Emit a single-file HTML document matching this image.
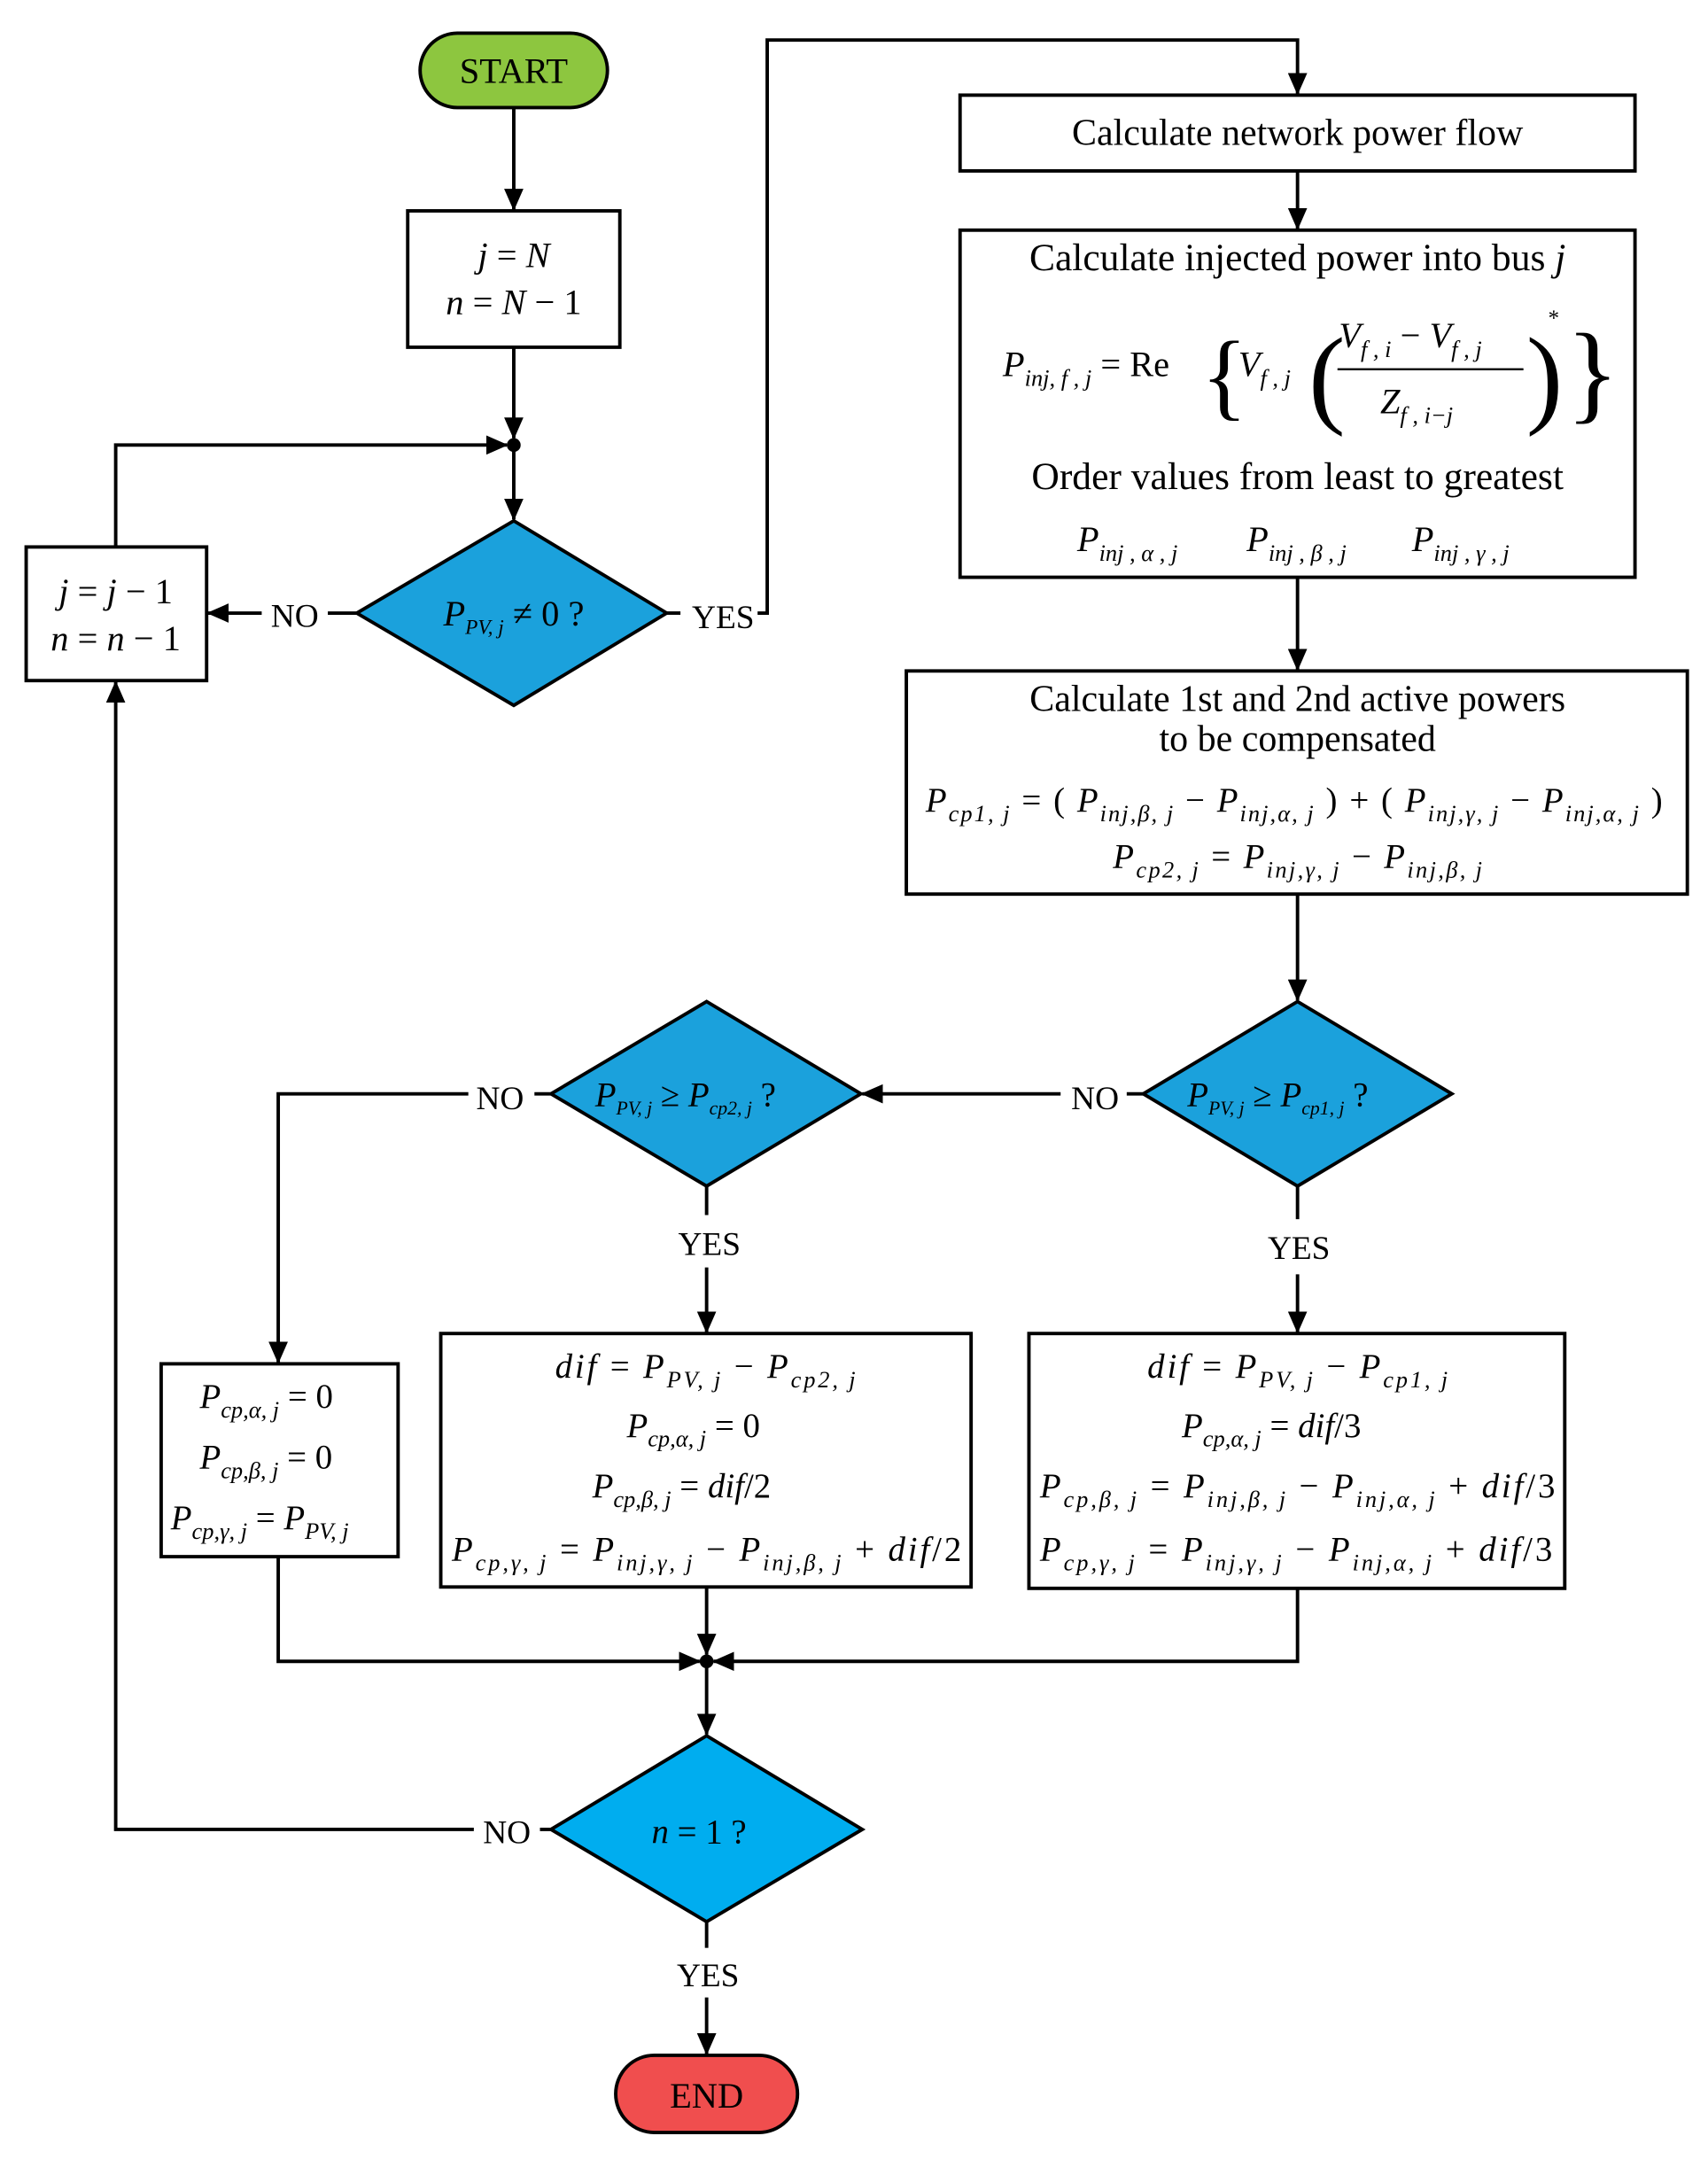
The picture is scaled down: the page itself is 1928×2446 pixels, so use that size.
<!DOCTYPE html>
<html><head><meta charset="utf-8"><style>
html,body{margin:0;padding:0;background:#fff;}
svg{display:block;}
text{font-family:"Liberation Serif",serif;fill:#000;}
.i{font-style:italic;}
</style></head><body>
<svg width="1928" height="2446" viewBox="0 0 1240 1573" xmlns="http://www.w3.org/2000/svg">
<defs>
<marker id="b" markerWidth="16" markerHeight="14" refX="15" refY="7" orient="auto" markerUnits="userSpaceOnUse">
<path d="M0,0 L16,7 L0,14 Z" fill="#000"/></marker>
</defs>
<g stroke="#000" stroke-width="2.5" fill="none">
<rect x="305" y="24" width="136" height="54" rx="27" fill="#8dc63f"/>
<rect x="296" y="153" width="154" height="99" fill="#fff"/>
<polygon points="259,445 373,378 484,445 373,512" fill="#1ba1dc"/>
<rect x="19" y="397" width="131" height="97" fill="#fff"/>
<rect x="697" y="69" width="490" height="55" fill="#fff"/>
<rect x="697" y="167" width="490" height="252" fill="#fff"/>
<rect x="658" y="487" width="567" height="162" fill="#fff"/>
<polygon points="830,794 942,727 1054,794 942,861" fill="#1ba1dc"/>
<polygon points="400,794 513,727 625,794 513,861" fill="#1ba1dc"/>
<rect x="117" y="990" width="172" height="140" fill="#fff"/>
<rect x="320" y="968" width="385" height="184" fill="#fff"/>
<rect x="747" y="968" width="389" height="185" fill="#fff"/>
<polygon points="400,1328 513,1260 626,1328 513,1395" fill="#00adef"/>
<rect x="447" y="1492" width="132" height="56" rx="28" fill="#f04e4e"/>
<line x1="373" y1="78" x2="373" y2="152" marker-end="url(#b)"/>
<line x1="373" y1="252" x2="373" y2="318" marker-end="url(#b)"/>
<line x1="373" y1="323" x2="373" y2="377" marker-end="url(#b)"/>
<polyline points="84,397 84,323 368,323" marker-end="url(#b)"/>
<line x1="259" y1="445" x2="238" y2="445"/>
<line x1="190" y1="445" x2="151" y2="445" marker-end="url(#b)"/>
<line x1="484" y1="445" x2="494" y2="445"/>
<polyline points="550,445 557,445 557,29 942,29 942,68" marker-end="url(#b)"/>
<line x1="942" y1="124" x2="942" y2="166" marker-end="url(#b)"/>
<line x1="942" y1="419" x2="942" y2="486" marker-end="url(#b)"/>
<line x1="942" y1="649" x2="942" y2="726" marker-end="url(#b)"/>
<line x1="830" y1="794" x2="818" y2="794"/>
<line x1="770" y1="794" x2="626" y2="794" marker-end="url(#b)"/>
<line x1="400" y1="794" x2="388" y2="794"/>
<polyline points="340,794 202,794 202,989" marker-end="url(#b)"/>
<line x1="513" y1="861" x2="513" y2="882"/>
<line x1="513" y1="920" x2="513" y2="967" marker-end="url(#b)"/>
<line x1="942" y1="861" x2="942" y2="885"/>
<line x1="942" y1="925" x2="942" y2="967" marker-end="url(#b)"/>
<polyline points="202,1130 202,1206 508,1206" marker-end="url(#b)"/>
<polyline points="942,1153 942,1206 518,1206" marker-end="url(#b)"/>
<line x1="513" y1="1152" x2="513" y2="1201" marker-end="url(#b)"/>
<line x1="513" y1="1206" x2="513" y2="1259" marker-end="url(#b)"/>
<line x1="400" y1="1328" x2="392" y2="1328"/>
<polyline points="344,1328 84,1328 84,495" marker-end="url(#b)"/>
<line x1="513" y1="1395" x2="513" y2="1414"/>
<line x1="513" y1="1450" x2="513" y2="1491" marker-end="url(#b)"/>
</g>
<circle cx="373" cy="323" r="5" fill="#000"/>
<circle cx="513" cy="1206" r="5" fill="#000"/>

<g font-size="26" text-anchor="middle">
<text x="373" y="60">START</text>
<text x="513" y="1530">END</text>
<text x="214" y="455" font-size="24">NO</text>
<text x="525" y="456" font-size="24">YES</text>
<text x="795" y="805" font-size="24">NO</text>
<text x="363" y="805" font-size="24">NO</text>
<text x="515" y="911" font-size="24">YES</text>
<text x="943" y="914" font-size="24">YES</text>
<text x="368" y="1338" font-size="24">NO</text>
<text x="514" y="1442" font-size="24">YES</text>
<text x="373" y="194" class="i">j <tspan font-style="normal">=</tspan> N</text>
<text x="373" y="228" class="i">n <tspan font-style="normal">= </tspan>N<tspan font-style="normal"> − 1</tspan></text>
<text x="84" y="438" class="i">j <tspan font-style="normal">= </tspan>j<tspan font-style="normal"> − 1</tspan></text>
<text x="84" y="472" class="i">n <tspan font-style="normal">= </tspan>n<tspan font-style="normal"> − 1</tspan></text>
<text x="373" y="454" class="i">P<tspan font-size="15" dy="6">PV, j</tspan><tspan dy="-6" font-style="normal"> ≠ 0 ?</tspan></text>
<text x="942" y="105" font-size="27">Calculate network power flow</text>
<text x="942" y="196" font-size="28">Calculate injected power into bus <tspan class="i">j</tspan></text>
<text x="942" y="355" font-size="28">Order values from least to greatest</text>
</g>
<g font-size="26">
<text x="728" y="273" class="i">P<tspan font-size="17" dy="7">inj, f , j</tspan><tspan dy="-7" font-style="normal"> = Re</tspan></text>
<text x="872" y="296" font-size="70" font-weight="100">{</text>
<text x="899" y="273" class="i">V<tspan font-size="17" dy="7">f , j</tspan></text>
<text x="950" y="300" font-size="80" font-weight="100">(</text>
<text x="1108" y="300" font-size="80" font-weight="100">)</text>
<text x="1124" y="236" font-size="16">*</text>
<text x="1137" y="297" font-size="80" font-weight="100">}</text>
<line x1="971" y1="268" x2="1106" y2="268" stroke="#000" stroke-width="1.5"/>
<text x="972" y="252" class="i">V<tspan font-size="17" dy="7">f , i</tspan><tspan dy="-7" font-style="normal"> − </tspan>V<tspan font-size="17" dy="7">f , j</tspan></text>
<text x="1002" y="300" class="i">Z<tspan font-size="17" dy="7">f , i−j</tspan></text>
<text x="782" y="400" class="i">P<tspan font-size="17" dy="7">inj , α , j</tspan></text>
<text x="905" y="400" class="i">P<tspan font-size="17" dy="7">inj , β , j</tspan></text>
<text x="1025" y="400" class="i">P<tspan font-size="17" dy="7">inj , γ , j</tspan></text>
</g>
<g font-size="27" text-anchor="middle">
<text x="942" y="516">Calculate 1st and 2nd active powers</text>
<text x="942" y="545">to be compensated</text>
</g>
<g font-size="25">
<text x="672" y="589" class="i" textLength="535" lengthAdjust="spacing">P<tspan font-size="17" dy="7">cp1, j</tspan><tspan dy="-7" font-style="normal"> = ( </tspan>P<tspan font-size="17" dy="7">inj,β, j</tspan><tspan dy="-7" font-style="normal"> − </tspan>P<tspan font-size="17" dy="7">inj,α, j</tspan><tspan dy="-7" font-style="normal"> ) + ( </tspan>P<tspan font-size="17" dy="7">inj,γ, j</tspan><tspan dy="-7" font-style="normal"> − </tspan>P<tspan font-size="17" dy="7">inj,α, j</tspan><tspan dy="-7" font-style="normal"> )</tspan></text>
<text x="808" y="630" class="i" textLength="268" lengthAdjust="spacing">P<tspan font-size="17" dy="7">cp2, j</tspan><tspan dy="-7" font-style="normal"> = </tspan>P<tspan font-size="17" dy="7">inj,γ, j</tspan><tspan dy="-7" font-style="normal"> − </tspan>P<tspan font-size="17" dy="7">inj,β, j</tspan></text>
<text x="862" y="803" class="i">P<tspan font-size="14" dy="6">PV, j</tspan><tspan dy="-6" font-style="normal"> ≥ </tspan>P<tspan font-size="14" dy="6">cp1, j</tspan><tspan dy="-6" font-style="normal">   ?</tspan></text>
<text x="432" y="803" class="i">P<tspan font-size="14" dy="6">PV, j</tspan><tspan dy="-6" font-style="normal"> ≥ </tspan>P<tspan font-size="14" dy="6">cp2, j</tspan><tspan dy="-6" font-style="normal">   ?</tspan></text>
<text x="473" y="1338" class="i">n<tspan font-style="normal"> = 1 ?</tspan></text>
<text x="145" y="1022" class="i">P<tspan font-size="17" dy="7">cp,α, j</tspan><tspan dy="-7" font-style="normal"> = 0</tspan></text>
<text x="145" y="1066" class="i">P<tspan font-size="17" dy="7">cp,β, j</tspan><tspan dy="-7" font-style="normal"> = 0</tspan></text>
<text x="124" y="1110" class="i">P<tspan font-size="17" dy="7">cp,γ, j</tspan><tspan dy="-7" font-style="normal"> = </tspan>P<tspan font-size="17" dy="7">PV, j</tspan></text>
<text x="403" y="1000" class="i" textLength="218" lengthAdjust="spacing">dif<tspan font-style="normal"> = </tspan>P<tspan font-size="17" dy="7">PV, j</tspan><tspan dy="-7" font-style="normal"> − </tspan>P<tspan font-size="17" dy="7">cp2, j</tspan></text>
<text x="455" y="1043" class="i">P<tspan font-size="17" dy="7">cp,α, j</tspan><tspan dy="-7" font-style="normal"> = 0</tspan></text>
<text x="430" y="1087" class="i">P<tspan font-size="17" dy="7">cp,β, j</tspan><tspan dy="-7" font-style="normal"> = </tspan>dif<tspan font-style="normal">/2</tspan></text>
<text x="328" y="1133" class="i" textLength="370" lengthAdjust="spacing">P<tspan font-size="17" dy="7">cp,γ, j</tspan><tspan dy="-7" font-style="normal"> = </tspan>P<tspan font-size="17" dy="7">inj,γ, j</tspan><tspan dy="-7" font-style="normal"> − </tspan>P<tspan font-size="17" dy="7">inj,β, j</tspan><tspan dy="-7" font-style="normal"> + </tspan>dif<tspan font-style="normal">/2</tspan></text>
<text x="833" y="1000" class="i" textLength="218" lengthAdjust="spacing">dif<tspan font-style="normal"> = </tspan>P<tspan font-size="17" dy="7">PV, j</tspan><tspan dy="-7" font-style="normal"> − </tspan>P<tspan font-size="17" dy="7">cp1, j</tspan></text>
<text x="858" y="1043" class="i">P<tspan font-size="17" dy="7">cp,α, j</tspan><tspan dy="-7" font-style="normal"> = </tspan>dif<tspan font-style="normal">/3</tspan></text>
<text x="755" y="1087" class="i" textLength="374" lengthAdjust="spacing">P<tspan font-size="17" dy="7">cp,β, j</tspan><tspan dy="-7" font-style="normal"> = </tspan>P<tspan font-size="17" dy="7">inj,β, j</tspan><tspan dy="-7" font-style="normal"> − </tspan>P<tspan font-size="17" dy="7">inj,α, j</tspan><tspan dy="-7" font-style="normal"> + </tspan>dif<tspan font-style="normal">/3</tspan></text>
<text x="755" y="1133" class="i" textLength="372" lengthAdjust="spacing">P<tspan font-size="17" dy="7">cp,γ, j</tspan><tspan dy="-7" font-style="normal"> = </tspan>P<tspan font-size="17" dy="7">inj,γ, j</tspan><tspan dy="-7" font-style="normal"> − </tspan>P<tspan font-size="17" dy="7">inj,α, j</tspan><tspan dy="-7" font-style="normal"> + </tspan>dif<tspan font-style="normal">/3</tspan></text>
</g>
</svg>
</body></html>
